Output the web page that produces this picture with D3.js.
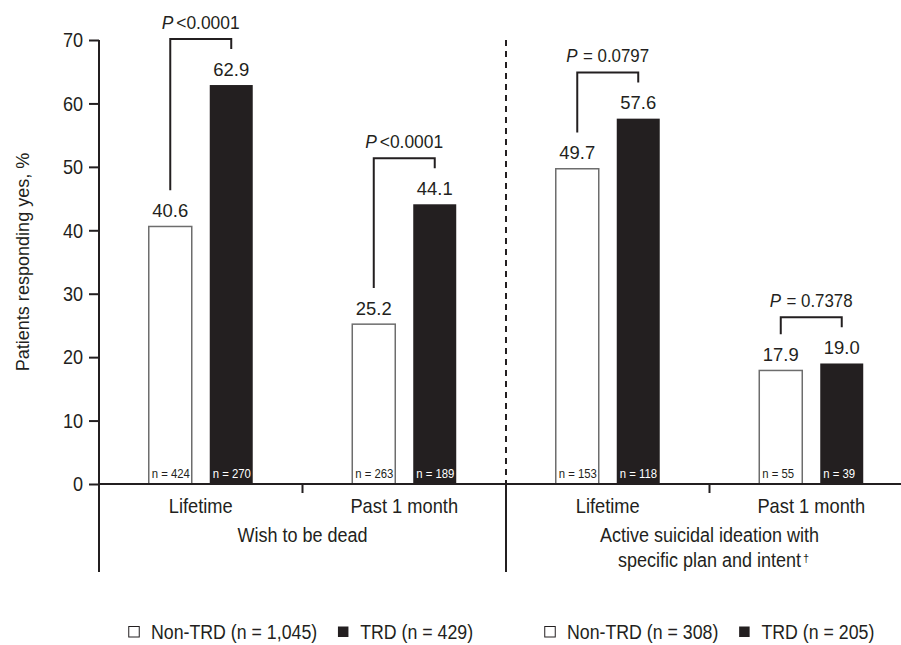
<!DOCTYPE html>
<html>
<head>
<meta charset="utf-8">
<script src="https://cdnjs.cloudflare.com/ajax/libs/d3/7.8.5/d3.min.js"></script>
<style>
  body { margin: 0; background: #fff; }
  svg text { font-family: "Liberation Sans", Arial, sans-serif; fill: #231f20; }
</style>
</head>
<body>
<div id="chart"></div>
<script>
// chart values
const groups = ["Wish to be dead", "Active suicidal ideation with|specific plan and intent"];
const periods = ["Lifetime", "Past 1 month"];
const series = ["Non-TRD", "TRD"];
const nonTrdValues = [40.6, 25.2, 49.7, 17.9];
const trdValues = [62.9, 44.1, 57.6, 19.0];
const nonTrdN = [424, 263, 153, 55];
const trdN = [270, 189, 118, 39];
const pValues = ["<0.0001", "<0.0001", "= 0.0797", "= 0.7378"];
const yTicks = [0, 10, 20, 30, 40, 50, 60, 70];
const legendLeft = ["Non-TRD (n = 1,045)", "TRD (n = 429)"];
const legendRight = ["Non-TRD (n = 308)", "TRD (n = 205)"];

const width = 901, height = 645;
const ink = "#231f20";

// the original uses a condensed face, so squeeze the text horizontally
function squeeze(sel, f) {
  sel.each(function () {
    const L = this.getComputedTextLength();
    d3.select(this).attr("textLength", L * f).attr("lengthAdjust", "spacingAndGlyphs");
  });
  return sel;
}

const cats = [0, 1, 2, 3];
const data = cats.map(i => ({
  i,
  period: periods[i % 2],
  vals: [nonTrdValues[i], trdValues[i]],
  ns: [nonTrdN[i], trdN[i]],
  p: pValues[i]
}));

const svg = d3.select("#chart").append("svg")
  .attr("width", width).attr("height", height);

const y = d3.scaleLinear().domain([0, 70]).range([484, 40]);
const x0 = d3.scaleBand().domain(cats).range([99, 913]);
const x1 = d3.scaleBand().domain(series).range([0, x0.bandwidth()])
  .paddingInner(0.295).paddingOuter(0.816);

// y axis
const yAxis = d3.axisLeft(y).tickValues(yTicks).tickSize(10).tickPadding(6).tickFormat(d3.format("d"));
const gy = svg.append("g").attr("transform", "translate(99,0)").call(yAxis);
gy.select(".domain").remove();
gy.selectAll(".tick line").attr("stroke", ink).attr("stroke-width", 2);
gy.selectAll(".tick text").attr("font-size", 21).attr("font-family", null).attr("fill", ink);
squeeze(gy.selectAll(".tick text"), 0.86);

svg.append("line").attr("x1", 99).attr("x2", 99).attr("y1", y(70)).attr("y2", 572)
  .attr("stroke", ink).attr("stroke-width", 2);

squeeze(svg.append("text")
  .attr("transform", `translate(29,${(y(0) + y(70)) / 2}) rotate(-90)`)
  .attr("text-anchor", "middle").attr("font-size", 19)
  .text("Patients responding yes, %"), 0.95);

// bars
const g = svg.selectAll(".cat").data(data).enter().append("g")
  .attr("class", "cat")
  .attr("transform", d => `translate(${x0(d.i)},0)`);

g.selectAll("rect").data(d => d.vals.map((v, k) => ({ v, k })))
  .enter().append("rect")
  .attr("x", d => x1(series[d.k]))
  .attr("y", d => y(d.v))
  .attr("width", x1.bandwidth())
  .attr("height", d => y(0) - y(d.v))
  .attr("fill", d => d.k ? ink : "#fff")
  .attr("stroke", d => d.k ? ink : "#6d6d6d")
  .attr("stroke-width", d => d.k ? 0 : 1.5);

squeeze(g.selectAll(".val").data(d => d.vals.map((v, k) => ({ v, k })))
  .enter().append("text")
  .attr("x", d => x1(series[d.k]) + x1.bandwidth() / 2)
  .attr("y", d => y(d.v) - 9.5)
  .attr("text-anchor", "middle").attr("font-size", 19)
  .text(d => d3.format(".1f")(d.v)), 0.97);

squeeze(g.selectAll(".n").data(d => d.ns.map((n, k) => ({ n, k })))
  .enter().append("text")
  .attr("x", d => x1(series[d.k]) + 3)
  .attr("y", y(0) - 6)
  .attr("font-size", 13.5)
  .style("fill", d => d.k ? "#fff" : ink)
  .text(d => `n = ${d.n}`), 0.84);

// p-value brackets
const legOff = 5.7;
g.each(function (d) {
  const sel = d3.select(this);
  const xa = x1(series[0]) + x1.bandwidth() / 2;
  const xb = x1(series[1]) + x1.bandwidth() / 2;
  const ya = y(d.vals[0] + legOff);
  const yb = y(d.vals[1] + legOff);
  const top = Math.min(ya, yb) - 10;
  sel.append("path")
    .attr("d", `M${xa},${ya}V${top}H${xb}V${yb}`)
    .attr("fill", "none").attr("stroke", ink).attr("stroke-width", 2);
  const t = sel.append("text")
    .attr("x", (xa + xb) / 2).attr("y", top - 10)
    .attr("text-anchor", "middle").attr("font-size", 19);
  t.append("tspan").attr("font-style", "italic").text("P");
  t.append("tspan").attr("dx", d.p[0] === "=" ? 6 : 3).text(d.p);
  squeeze(t, 0.95);
});

// baseline, divider, category ticks
svg.append("line").attr("x1", 99).attr("x2", width).attr("y1", y(0)).attr("y2", y(0))
  .attr("stroke", ink).attr("stroke-width", 2);
const xDiv = x0(2);
svg.append("line").attr("x1", xDiv).attr("x2", xDiv).attr("y1", y(70)).attr("y2", y(0))
  .attr("stroke", ink).attr("stroke-width", 2).attr("stroke-dasharray", "6,5");
svg.append("line").attr("x1", xDiv).attr("x2", xDiv).attr("y1", y(0)).attr("y2", 572)
  .attr("stroke", ink).attr("stroke-width", 2);
[1, 3].forEach(i => {
  svg.append("line").attr("x1", x0(i)).attr("x2", x0(i)).attr("y1", y(0)).attr("y2", y(0) + 9)
    .attr("stroke", ink).attr("stroke-width", 2);
});

// category labels
squeeze(svg.selectAll(".period").data(data).enter().append("text")
  .attr("x", d => x0(d.i) + x0.bandwidth() / 2)
  .attr("y", 513).attr("text-anchor", "middle").attr("font-size", 21)
  .text(d => d.period), 0.87);

groups.forEach((name, gi) => {
  const cx = x0(gi * 2) + x0.bandwidth();
  const lines = name.split("|");
  lines.forEach((line, li) => {
    const t = svg.append("text").attr("x", cx).attr("y", 542 + li * 24.5)
      .attr("text-anchor", "middle").attr("font-size", 20).text(line);
    const L = t.node().getComputedTextLength() * 0.9;
    squeeze(t, 0.9);
    if (gi === 1 && li === lines.length - 1) {
      // dagger footnote mark
      svg.append("text").attr("x", cx + L / 2 + 2).attr("y", 542 + li * 24.5 - 5)
        .attr("font-size", 11).text("\u2020");
    }
  });
});

// legends
function legend(x, labels) {
  const lg = svg.append("g").attr("transform", `translate(${x},639)`);
  let cx = 0;
  labels.forEach((lab, k) => {
    lg.append("rect").attr("x", cx + 0.75).attr("y", -12.5).attr("width", 10.5).attr("height", 10.5)
      .attr("fill", k ? ink : "#fff").attr("stroke", ink).attr("stroke-width", k ? 0 : 1);
    const t = lg.append("text").attr("x", cx + 23).attr("y", 0).attr("font-size", 19.5).text(lab);
    const L = t.node().getComputedTextLength() * 0.91;
    squeeze(t, 0.91);
    cx += 23 + L + 20;
  });
}
legend(128, legendLeft);
legend(544, legendRight);
</script>
</body>
</html>
